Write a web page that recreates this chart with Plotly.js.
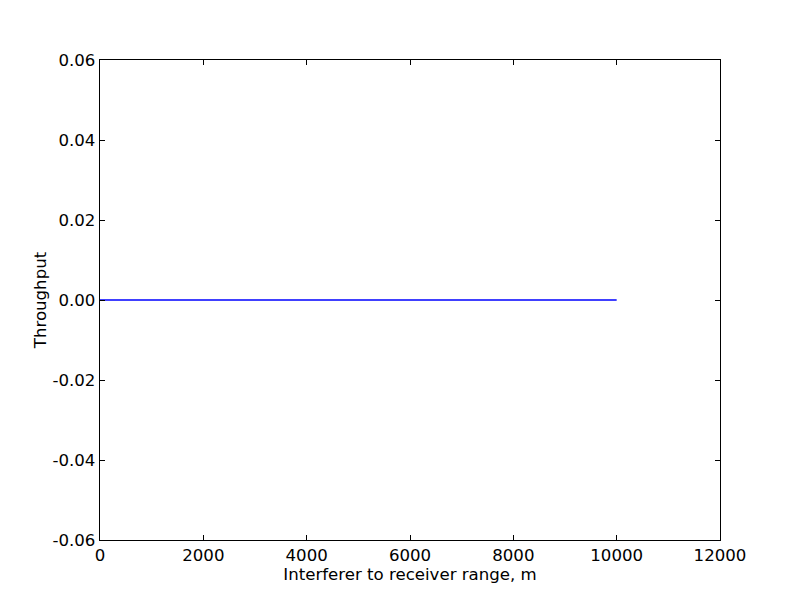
<!DOCTYPE html>
<html>
<head>
<meta charset="utf-8">
<script src="https://cdn.plot.ly/plotly-3.0.1.min.js"></script>
<style>body{margin:0;padding:0;background:#fff}#chart{width:800px;height:600px}</style>
</head>
<body>
<div id="chart"></div>
<script>
const rangeM = [0, 1000, 2000, 3000, 4000, 5000, 6000, 7000, 8000, 9000, 10000];
const throughput = [0, 0, 0, 0, 0, 0, 0, 0, 0, 0, 0];
const xTickVals = [0, 2000, 4000, 6000, 8000, 10000, 12000];
const xTickText = ["0", "2000", "4000", "6000", "8000", "10000", "12000"];
const yTickVals = [-0.06, -0.04, -0.02, 0, 0.02, 0.04, 0.06];
const yTickText = ["-0.06", "-0.04", "-0.02", "0.00", "0.02", "0.04", "0.06"];

const font = {family: "DejaVu Sans", size: 16.6, color: "#000"};
const axisCommon = {
  showgrid: false, zeroline: false, showline: true, linecolor: "#000", linewidth: 1.3,
  mirror: "ticks", ticks: "inside", ticklen: 5, tickwidth: 1, tickcolor: "#000",
  tickfont: font, tickmode: "array"
};
Plotly.newPlot("chart", [{
  x: rangeM, y: throughput, type: "scatter", mode: "lines",
  line: {color: "#0000ff", width: 1.3}, hoverinfo: "none"
}], {
  width: 800, height: 600,
  margin: {l: 100, r: 80, t: 60, b: 60},
  paper_bgcolor: "#fff", plot_bgcolor: "#fff",
  showlegend: false,
  xaxis: Object.assign({}, axisCommon, {
    range: [0, 12000], tickvals: xTickVals, ticktext: xTickText,
    title: {text: "Interferer to receiver range, m", font: font, standoff: 0}
  }),
  yaxis: Object.assign({}, axisCommon, {
    range: [-0.06, 0.06], tickvals: yTickVals, ticktext: yTickText,
    title: {text: "Throughput", font: font, standoff: 1}
  })
}, {displayModeBar: false, staticPlot: true});
</script>
</body>
</html>
